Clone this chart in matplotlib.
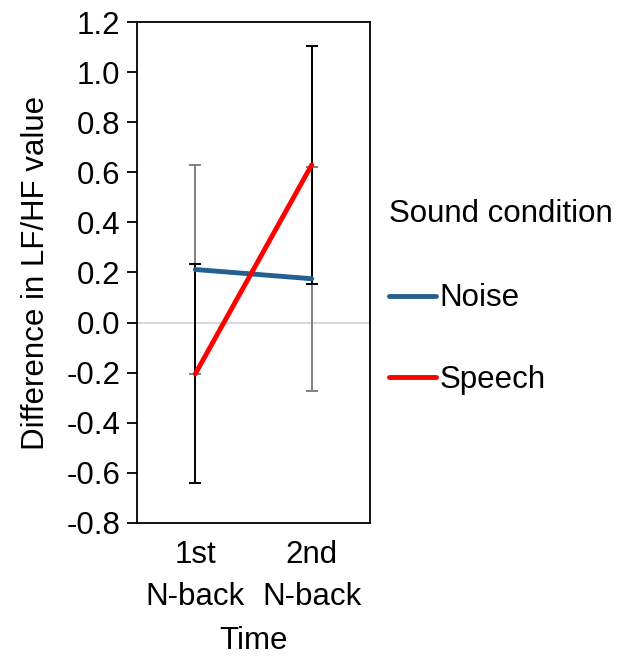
import matplotlib
matplotlib.use("Agg")
import matplotlib.pyplot as plt

plt.rcParams['font.family'] = ['Liberation Sans', 'DejaVu Sans']

# Data
time_labels = ['1st\nN-back', '2nd\nN-back']
noise_mean = [0.212, 0.175]
noise_err = [0.416, 0.447]
speech_mean = [-0.205, 0.630]
speech_err = [0.437, 0.475]
y_ticks = [-0.8, -0.6, -0.4, -0.2, 0.0, 0.2, 0.4, 0.6, 0.8, 1.0, 1.2]

FS = 22.5

fig = plt.figure(figsize=(6.18, 6.57), dpi=100)
ax = fig.add_axes([0.2217, 0.204, 0.377, 0.7625])

x = list(range(len(time_labels)))

# zero line
ax.axhline(0, color='#d9d9d9', lw=1.5, zorder=1)

# error bars: grey for noise, black for speech (speech drawn above)
ax.errorbar(x, noise_mean, yerr=noise_err, fmt='none', ecolor='#808080',
            elinewidth=1.4, capsize=4.5, capthick=1.4, zorder=2)
ax.errorbar(x, speech_mean, yerr=speech_err, fmt='none', ecolor='black',
            elinewidth=1.4, capsize=4.5, capthick=1.4, zorder=3)

noise_line, = ax.plot(x, noise_mean, color='#255e91', lw=3.5, label='Noise',
                      solid_capstyle='round', zorder=4)
speech_line, = ax.plot(x, speech_mean, color='#ff0000', lw=3.5, label='Speech',
                       solid_capstyle='round', zorder=5)

ax.set_xlim(-0.5, 1.5)
ax.set_ylim(-0.8, 1.2)
ax.set_yticks(y_ticks)
ax.set_yticklabels([f'{v:.1f}' for v in y_ticks], fontsize=FS)
ax.set_xticks(x)
ax.set_xticklabels(time_labels, fontsize=FS, linespacing=1.55)
ax.tick_params(axis='x', length=0, pad=12)
ax.tick_params(axis='y', direction='out', length=7, width=1.3, pad=5)
for s in ax.spines.values():
    s.set_linewidth(1.3)

ax.set_xlabel('Time', fontsize=FS, labelpad=10)
ax.set_ylabel('Difference in LF/HF value', fontsize=FS, labelpad=11)

leg = ax.legend(handles=[noise_line, speech_line], title='Sound condition',
                loc='upper left', bbox_to_anchor=(1.03, 0.671), frameon=False,
                fontsize=FS, title_fontsize=FS, labelspacing=1.65,
                handlelength=1.5, handletextpad=0.1, alignment='left',
                borderaxespad=0)
leg._legend_box.sep = 39

fig.savefig('out.png', dpi=100)
